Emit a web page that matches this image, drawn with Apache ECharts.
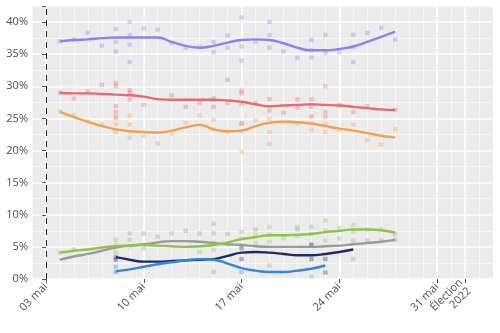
<!DOCTYPE html>
<html><head><meta charset="utf-8">
<script src="https://cdn.jsdelivr.net/npm/echarts@6/dist/echarts.min.js"></script>
<style>html,body{margin:0;padding:0;background:#fff}#c{width:500px;height:333px}</style>
</head><body><div id="c"></div>
<script>
// x = days since 03 mai
const tickDays = [0, 7, 14, 21, 28, 30];
const tickLabels = ['03 mai', '10 mai', '17 mai', '24 mai', '31 mai', 'Élection\n2022'];
const yTicks = [0, 5, 10, 15, 20, 25, 30, 35, 40];
const refLineDay = [0];

const lineDays = [1,2,3,4,5,6,7,8,9,10,11,12,13,14,15,16,17,18,19,20,21,22,23,24,25];
const lineDaysLate = [5,6,7,8,9,10,11,12,13,14,15,16,17,18,19,20,21,22];
const blueDays = [5,6,7,8,9,10,11,12,13,14,15,16,17,18,19,20];

const purpleLine = [37.0,37.2,37.3,37.5,37.6,37.6,37.6,37.6,36.9,36.3,36.0,36.3,36.8,37.2,37.3,37.2,36.7,36.0,35.6,35.6,35.8,36.2,36.9,37.7,38.5];
const redLine = [29.0,28.9,28.9,28.8,28.7,28.6,28.4,28.0,27.9,27.9,27.9,27.9,27.8,27.6,27.2,26.9,27.0,27.1,27.2,27.1,27.0,26.8,26.6,26.4,26.3];
const orangeLine = [26.0,25.2,24.5,23.8,23.3,23.0,22.9,22.8,23.1,23.6,24.0,23.3,23.0,23.1,23.8,24.3,24.5,24.4,24.2,23.8,23.4,23.1,22.7,22.3,22.0];
const greenLine = [4.1,4.4,4.6,4.9,5.1,5.2,5.3,5.2,5.1,5.0,5.1,5.3,5.7,6.2,6.5,6.8,6.8,6.9,7.0,7.3,7.5,7.7,7.7,7.6,7.2];
const grayLine = [3.0,3.5,3.9,4.4,4.9,5.2,5.4,5.7,5.9,5.9,5.8,5.6,5.4,5.3,5.1,5.0,5.0,5.0,5.0,5.1,5.2,5.4,5.6,5.8,6.1];
const navyLine = [3.4,3.0,2.7,2.7,2.8,2.9,3.0,3.1,3.6,4.1,4.2,4.1,3.9,3.7,3.7,3.9,4.2,4.6];
const blueLine = [1.2,1.5,1.9,2.3,2.6,2.9,3.1,3.0,2.4,1.7,1.3,1.1,1.1,1.3,1.6,2.1];

const purplePts = [[1,37.0],[2,37.3],[3,38.3],[4,36.3],[5,38.9],[5,36.9],[5,35.4],[6,40.0],[6,38.0],[6,36.5],[6,33.8],[7,39.0],[8,38.8],[9,36.7],[10,36.0],[11,36.1],[12,36.9],[12,35.3],[13,37.9],[13,36.0],[14,40.7],[14,36.2],[14,34.0],[15,36.9],[16,40.0],[16,38.0],[16,36.0],[17,35.4],[18,34.4],[19,37.2],[19,35.6],[19,34.5],[20,38.0],[20,35.2],[21,35.3],[22,38.0],[22,36.1],[22,33.8],[23,38.3],[24,39.1],[25,37.3]];
const redPts = [[1,29.0],[2,28.1],[3,29.2],[4,30.2],[5,30.5],[5,30.0],[5,26.9],[5,26.0],[5,25.3],[6,29.4],[6,29.0],[6,28.0],[7,27.1],[9,28.6],[10,26.8],[11,27.4],[12,28.1],[12,26.8],[13,31.0],[13,27.4],[14,29.3],[14,28.9],[14,27.2],[14,24.2],[15,27.4],[16,28.0],[16,26.2],[17,25.9],[18,28.0],[18,26.7],[19,28.0],[19,26.8],[19,25.3],[20,30.0],[20,26.0],[20,25.3],[21,27.1],[22,26.0],[23,26.9],[25,26.3]];
const orangePts = [[1,26.1],[2,25.5],[3,24.5],[4,24.1],[5,25.0],[5,24.1],[5,22.9],[6,25.4],[6,24.0],[6,22.0],[7,22.3],[8,21.1],[9,22.7],[10,24.3],[11,25.5],[12,24.8],[12,23.3],[13,22.9],[14,24.2],[14,23.0],[14,19.8],[15,24.7],[16,24.9],[16,22.9],[16,21.0],[18,24.2],[19,24.2],[19,23.2],[20,24.2],[20,22.9],[21,23.2],[22,24.0],[23,21.6],[24,20.9],[25,23.3]];
const greenPts = [[1,4.1],[2,4.6],[5,6.1],[5,5.3],[5,4.1],[6,5.1],[7,4.8],[11,4.2],[12,5.6],[12,4.5],[13,5.4],[14,6.3],[14,5.2],[15,6.9],[15,5.6],[16,8.1],[16,6.9],[16,5.8],[17,6.3],[18,8.1],[18,6.7],[19,7.0],[20,9.1],[20,7.6],[20,6.0],[21,7.9],[22,8.4],[22,7.4],[23,7.7],[24,7.7],[25,7.0]];
const grayPts = [[6,7.1],[6,6.1],[7,7.1],[8,6.6],[9,7.1],[10,7.5],[11,7.1],[12,8.6],[12,7.1],[12,1.1],[13,7.0],[14,7.3],[15,7.7],[16,2.1],[18,7.7],[19,8.1],[19,5.4],[19,0.4],[20,1.0],[21,6.3],[22,6.0],[22,3.1],[23,6.0],[24,6.0],[25,6.1]];
const navyPts = [[5,3.4],[5,3.0],[14,4.8],[14,3.1],[19,5.3],[19,3.1],[20,3.1]];
const bluePts = [[5,1.1],[5,1.9],[14,1.1],[20,1.0]];

const C = {purple:'#8e80ee', red:'#e96a6c', orange:'#f3a04c', green:'#8ec448', gray:'#9a9a9a', navy:'#1b2c6c', blue:'#3585d8'};

function pair(days, vals){ return days.map((d,i)=>[d, vals[i]]); }
function lineS(days, vals, col){
  return {type:'line', xAxisIndex:0, data:pair(days, vals), smooth:0.5, showSymbol:false, symbol:'none',
    lineStyle:{color:col, width:2.4}, z:4, silent:true};
}
function ptS(pts, col){
  return {type:'scatter', xAxisIndex:0, data:pts, symbol:'roundRect', symbolSize:4.5,
    itemStyle:{color:col, opacity:0.35}, z:3, silent:true};
}

const chart = echarts.init(document.getElementById('c'), null, {renderer:'canvas'});
chart.setOption({
  animation:false,
  grid:{left:32, right:7, top:6, bottom:54, show:true, backgroundColor:'#ebebeb', borderWidth:0},
  xAxis:[{
    type:'value', min:-1, max:32, position:'bottom',
    axisLine:{show:false},
    axisTick:{show:true, customValues:tickDays, length:4, lineStyle:{color:'#555', width:1}},
    axisLabel:{customValues:tickDays, rotate:45, color:'#4d4d4d', fontSize:11, fontFamily:'Open Sans, DejaVu Sans, sans-serif',
      formatter:function(v){ const i = tickDays.indexOf(v); return i>=0 ? tickLabels[i] : ''; }, margin:6, lineHeight:12},
    splitLine:{show:true, lineStyle:{color:'#ffffff', width:1.6}}
  },{
    type:'value', min:-1, max:32, interval:1, position:'bottom',
    axisLine:{show:false}, axisTick:{show:false}, axisLabel:{show:false},
    splitLine:{show:true, lineStyle:{color:'#ffffff', width:0.6}}
  }],
  yAxis:{
    type:'value', min:0, max:42.5, interval:5,
    axisLine:{show:false},
    axisTick:{show:true, length:4, lineStyle:{color:'#555'}},
    axisLabel:{color:'#4d4d4d', fontSize:11, fontFamily:'Open Sans, DejaVu Sans, sans-serif', margin:4,
      formatter:function(v){ return yTicks.indexOf(v)>=0 ? v+'%' : ''; }},
    splitLine:{show:true, lineStyle:{color:'#ffffff', width:1.6}},
    minorTick:{show:false, splitNumber:2},
    minorSplitLine:{show:true, lineStyle:{color:'#ffffff', width:0.6}}
  },
  series:[
    {type:'line', xAxisIndex:0, data:[], silent:true,
      markLine:{symbol:'none', silent:true, label:{show:false}, lineStyle:{color:'#222', type:[6,5], width:1},
        data:refLineDay.map(d=>({xAxis:d}))}},
    ptS(purplePts, C.purple), ptS(redPts, C.red), ptS(orangePts, C.orange),
    ptS(greenPts, C.green), ptS(grayPts, C.gray), ptS(navyPts, C.navy), ptS(bluePts, C.blue),
    lineS(lineDays, purpleLine, C.purple), lineS(lineDays, redLine, C.red), lineS(lineDays, orangeLine, C.orange),
    lineS(lineDays, grayLine, C.gray), lineS(lineDays, greenLine, C.green),
    lineS(lineDaysLate, navyLine, C.navy), lineS(blueDays, blueLine, C.blue)
  ]
});
</script></body></html>
